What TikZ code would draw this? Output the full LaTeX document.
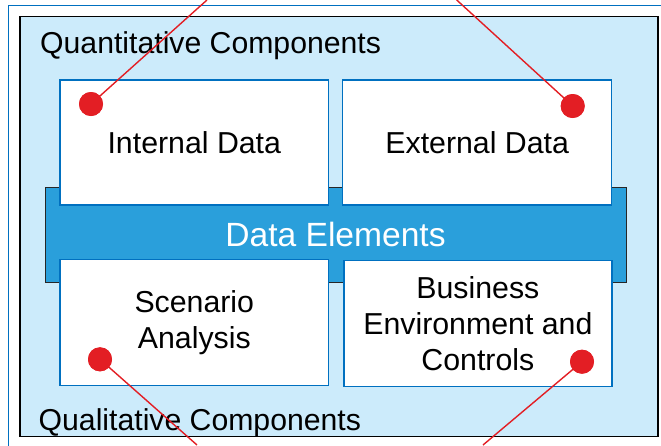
\documentclass[tikz,border=0pt]{standalone}
\usepackage{fontspec}
\setmainfont{Liberation Sans}
\definecolor{frameblue}{HTML}{0070C0}
\definecolor{lightbg}{HTML}{CCEBFB}
\definecolor{bandblue}{HTML}{2A9FDB}
\definecolor{dotred}{HTML}{E31E24}
\begin{document}
\begin{tikzpicture}[x=1pt,y=-1pt,
  databox/.style={draw=frameblue, line width=1.5pt, fill=white, inner sep=0pt,
    align=center, font=\fontsize{30.3}{36}\selectfont},
  bandbox/.style={draw=black!85, line width=1pt, fill=bandblue, inner sep=0pt,
    text=white, font=\fontsize{33.6}{36}\selectfont},
  groupbox/.style={draw=black, line width=1.3pt, fill=lightbg, inner sep=0pt},
  grouplabel/.style={anchor=base west, inner sep=0pt, font=\fontsize{30.2}{36}\selectfont},
  reddot/.style={circle, fill=dotred, minimum size=24pt, inner sep=0pt},
  redline/.style={draw=dotred, line width=1.4pt}]
\useasboundingbox (0,0) rectangle (661,445);
% outer frame (cropped)
\draw[frameblue, line width=1.5pt] (8.5,5.5) rectangle (690,480);
% group box
\node[groupbox, minimum width=638pt, minimum height=420pt] (grp) at (339,226.7) {};
% band
\node[bandbox, minimum width=581pt, minimum height=95pt] (band) at (335.5,234.8) {Data Elements};
% boxes
\node[databox, minimum width=268.5pt, minimum height=125pt] (int) at (194.3,142.5) {Internal Data};
\node[databox, minimum width=269pt, minimum height=125pt] (ext) at (477.2,142.5) {External Data};
\node[databox, minimum width=268.5pt, minimum height=126.4pt] (scn) at (194.3,322.5) {Scenario\\Analysis};
\node[databox, minimum width=267.7pt, minimum height=126pt] (bus) at (477.9,323.7) {Business\\Environment and\\Controls};
% labels
\node[grouplabel] (qt) at (40,53.3) {Quantitative Components};
\node[grouplabel] (ql) at (38.5,430.5) {Qualitative Components};
% dots
\node[reddot] (d1) at (91,104) {};
\node[reddot] (d2) at (572.7,106) {};
\node[reddot] (d3) at (100,359.3) {};
\node[reddot] (d4) at (582,361.7) {};
\coordinate (t1) at (207,0);
\coordinate (t2) at (456.7,0);
\coordinate (t3) at (197,445);
\coordinate (t4) at (483,445);
\draw[redline] (d1.center) -- (t1);
\draw[redline] (d2.center) -- (t2);
\draw[redline] (d3.center) -- (t3);
\draw[redline] (d4.center) -- (t4);
\node[reddot] at (d1) {};
\node[reddot] at (d2) {};
\node[reddot] at (d3) {};
\node[reddot] at (d4) {};
\end{tikzpicture}
\end{document}
